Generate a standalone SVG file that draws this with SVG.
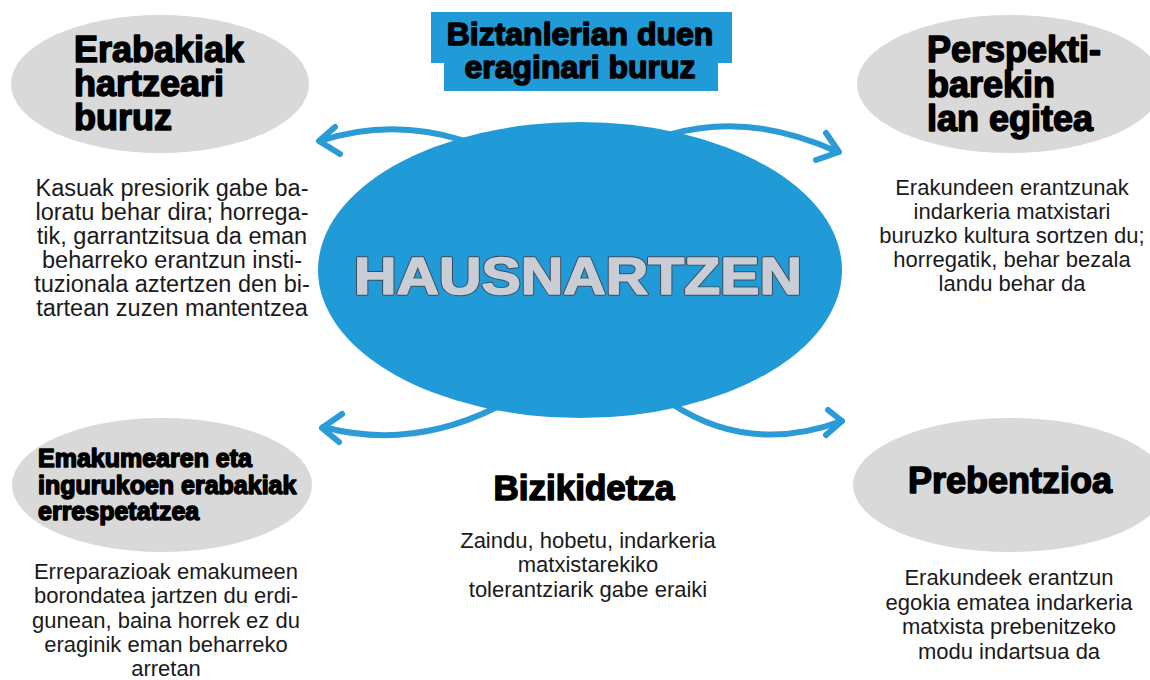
<svg xmlns="http://www.w3.org/2000/svg" width="1150" height="680" viewBox="0 0 1150 680">
<defs>
<style>
.bg{fill:#ffffff}
.gray{fill:#d9d9d9}
.blue{fill:#219ad8}
.arrow{fill:none;stroke:#2b9bd8;stroke-width:6;stroke-linecap:round;stroke-linejoin:round}
.title{font-family:"Liberation Sans",Arial,sans-serif;font-weight:bold;fill:#000;stroke:#000;stroke-width:1.5;stroke-linejoin:round}
.body{font-family:"Liberation Sans",Arial,sans-serif;font-size:22px;fill:#1a1a1a;text-anchor:middle}
.body-l{font-size:23.5px}
.center{font-family:"Liberation Sans",Arial,sans-serif;font-weight:bold;font-size:52px;stroke-linejoin:round}
.c-out{fill:#3f4b59;stroke:#3f4b59;stroke-width:3.4}
.c-in{fill:#c9ced6;stroke:#c9ced6;stroke-width:1.6}
</style>
</defs>
<rect class="bg" x="0" y="0" width="1150" height="680"/>

<g id="connectors">
<path class="arrow" d="M 462,140 Q 390,118 320,141"/>
<path class="arrow" d="M 335,127 L 319,141 L 340,154"/>
<path class="arrow" d="M 672,134 Q 750,112 838,152"/>
<path class="arrow" d="M 826,133 L 839,152 L 816,160"/>
<path class="arrow" d="M 495,408 Q 410,450 323,427"/>
<path class="arrow" d="M 342,414 L 322,428 L 339,442"/>
<path class="arrow" d="M 672,404 Q 750,455 842,421"/>
<path class="arrow" d="M 828,410 L 842,421 L 826,435"/>
</g>

<g id="center">
<ellipse class="blue" cx="580" cy="270" rx="262" ry="148"/>
<text class="center c-out" x="354" y="294" textLength="448" lengthAdjust="spacingAndGlyphs">HAUSNARTZEN</text>
<text class="center c-in" x="354" y="294" textLength="448" lengthAdjust="spacingAndGlyphs">HAUSNARTZEN</text>
</g>

<g id="top-title">
<rect class="blue" x="431" y="12" width="301" height="51"/>
<rect class="blue" x="444" y="60" width="274" height="31"/>
<text class="title" x="580" y="45" font-size="32" text-anchor="middle">Biztanlerian duen</text>
<text class="title" x="580" y="78" font-size="32" text-anchor="middle">eraginari buruz</text>
</g>

<g id="node-erabakiak">
<ellipse class="gray" cx="160" cy="84" rx="149" ry="69"/>
<text class="title" font-size="36"><tspan x="74" y="62">Erabakiak</tspan><tspan x="74" y="96">hartzeari</tspan><tspan x="74" y="130">buruz</tspan></text>
<text class="body body-l"><tspan x="172" y="196">Kasuak presiorik gabe ba-</tspan><tspan x="172" y="220">loratu behar dira; horrega-</tspan><tspan x="172" y="244">tik, garrantzitsua da eman</tspan><tspan x="172" y="268">beharreko erantzun insti-</tspan><tspan x="172" y="292">tuzionala aztertzen den bi-</tspan><tspan x="172" y="316">tartean zuzen mantentzea</tspan></text>
</g>

<g id="node-perspektiba">
<ellipse class="gray" cx="1010" cy="84" rx="153" ry="69"/>
<text class="title" font-size="36"><tspan x="927" y="62">Perspekti-</tspan><tspan x="927" y="97">barekin</tspan><tspan x="927" y="131">lan egitea</tspan></text>
<text class="body"><tspan x="1012" y="195">Erakundeen erantzunak</tspan><tspan x="1012" y="219">indarkeria matxistari</tspan><tspan x="1012" y="243">buruzko kultura sortzen du;</tspan><tspan x="1012" y="267">horregatik, behar bezala</tspan><tspan x="1012" y="291">landu behar da</tspan></text>
</g>

<g id="node-emakumea">
<ellipse class="gray" cx="162" cy="485" rx="150" ry="67"/>
<text class="title" font-size="25"><tspan x="38" y="467">Emakumearen eta</tspan><tspan x="38" y="494">ingurukoen erabakiak</tspan><tspan x="38" y="520">errespetatzea</tspan></text>
<text class="body"><tspan x="166" y="579">Erreparazioak emakumeen</tspan><tspan x="166" y="603">borondatea jartzen du erdi-</tspan><tspan x="166" y="628">gunean, baina horrek ez du</tspan><tspan x="166" y="652">eraginik eman beharreko</tspan><tspan x="166" y="676">arretan</tspan></text>
</g>

<g id="node-bizikidetza">
<text class="title" x="584" y="500" font-size="35" text-anchor="middle">Bizikidetza</text>
<text class="body"><tspan x="588" y="548">Zaindu, hobetu, indarkeria</tspan><tspan x="588" y="572">matxistarekiko</tspan><tspan x="588" y="597">tolerantziarik gabe eraiki</tspan></text>
</g>

<g id="node-prebentzioa">
<ellipse class="gray" cx="1010" cy="485" rx="157" ry="67"/>
<text class="title" x="1010" y="493" font-size="36" text-anchor="middle">Prebentzioa</text>
<text class="body"><tspan x="1009" y="585">Erakundeek erantzun</tspan><tspan x="1009" y="610">egokia ematea indarkeria</tspan><tspan x="1009" y="634">matxista prebenitzeko</tspan><tspan x="1009" y="659">modu indartsua da</tspan></text>
</g>
</svg>
